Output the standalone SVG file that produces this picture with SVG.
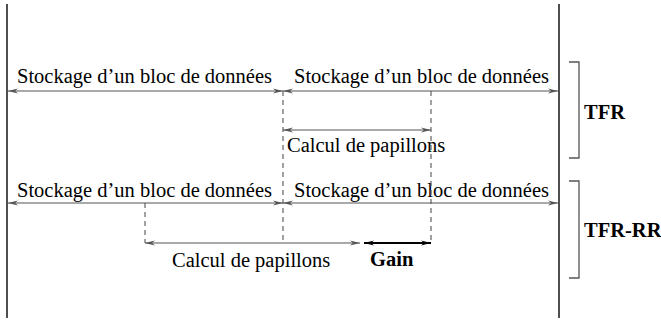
<svg xmlns="http://www.w3.org/2000/svg" width="661" height="320" viewBox="0 0 661 320">
  <style>
    .frame { stroke: #222; stroke-width: 1.6; fill: none; }
    .dim { stroke: #555; stroke-width: 1.2; fill: none; marker-start: url(#barbL); marker-end: url(#barbR); }
    .gain { stroke: #000; stroke-width: 2.2; fill: none; marker-start: url(#barbLk); marker-end: url(#barbRk); }
    .guide { stroke: #555; stroke-width: 1.1; stroke-dasharray: 5 4; fill: none; }
    .brace { stroke: #555; stroke-width: 1.3; fill: none; }
    .tag { font-weight: bold; }
  </style>
  <defs>
    <marker id="barbR" viewBox="0 0 10 6" refX="10" refY="3" markerWidth="10" markerHeight="6" markerUnits="userSpaceOnUse" orient="auto">
      <path d="M0,0.5 L10,3 L0,5.5 L3,3 Z" fill="#555"/>
    </marker>
    <marker id="barbL" viewBox="0 0 10 6" refX="0" refY="3" markerWidth="10" markerHeight="6" markerUnits="userSpaceOnUse" orient="auto">
      <path d="M10,0.5 L0,3 L10,5.5 L7,3 Z" fill="#555"/>
    </marker>
    <marker id="barbRk" viewBox="0 0 10 6" refX="10" refY="3" markerWidth="10" markerHeight="6" markerUnits="userSpaceOnUse" orient="auto">
      <path d="M0,0.5 L10,3 L0,5.5 L3,3 Z" fill="#000"/>
    </marker>
    <marker id="barbLk" viewBox="0 0 10 6" refX="0" refY="3" markerWidth="10" markerHeight="6" markerUnits="userSpaceOnUse" orient="auto">
      <path d="M10,0.5 L0,3 L10,5.5 L7,3 Z" fill="#000"/>
    </marker>
  </defs>

  <!-- outer time bounds -->
  <g id="bounds">
    <line class="frame" x1="7" y1="4" x2="7" y2="318"/>
    <line class="frame" x1="559" y1="4" x2="559" y2="318"/>
  </g>

  <g font-family="Liberation Serif" font-size="20.5" fill="#000">
    <!-- TFR row -->
    <g id="tfr-storage-1">
      <text x="17" y="83">Stockage d’un bloc de données</text>
    </g>
    <g id="tfr-storage-2">
      <text x="294" y="83">Stockage d’un bloc de données</text>
    </g>
    <g id="tfr-butterfly">
      <text x="287" y="152">Calcul de papillons</text>
    </g>
    <g id="tfr-label">
      <path class="brace" d="M569,62 H579 V158 H569"/>
      <text class="tag" x="584" y="119">TFR</text>
    </g>

    <!-- TFR-RR row -->
    <g id="tfrrr-storage-1">
      <text x="17" y="197">Stockage d’un bloc de données</text>
    </g>
    <g id="tfrrr-storage-2">
      <text x="294" y="197">Stockage d’un bloc de données</text>
    </g>
    <g id="tfrrr-butterfly">
      <text x="172" y="267">Calcul de papillons</text>
    </g>
    <g id="tfrrr-gain">
      <text class="tag" x="370" y="266">Gain</text>
    </g>
    <g id="tfrrr-label">
      <path class="brace" d="M569,181 H579 V278 H569"/>
      <text class="tag" x="584" y="237">TFR-RR</text>
    </g>
  </g>

  <!-- connectors: dimension arrows and dashed guides -->
  <g id="connectors">
    <line class="guide" x1="283" y1="91" x2="283" y2="243"/>
    <line class="guide" x1="431" y1="91" x2="431" y2="243"/>
    <line class="guide" x1="145" y1="203" x2="145" y2="243"/>

    <line class="dim" x1="8" y1="91" x2="283" y2="91"/>
    <line class="dim" x1="283" y1="91" x2="558" y2="91"/>
    <line class="dim" x1="283" y1="130" x2="431" y2="130"/>

    <line class="dim" x1="8" y1="203" x2="283" y2="203"/>
    <line class="dim" x1="283" y1="203" x2="558" y2="203"/>
    <line class="dim" x1="145" y1="243" x2="360" y2="243"/>
    <line class="gain" x1="364" y1="243" x2="431" y2="243"/>
  </g>
</svg>
